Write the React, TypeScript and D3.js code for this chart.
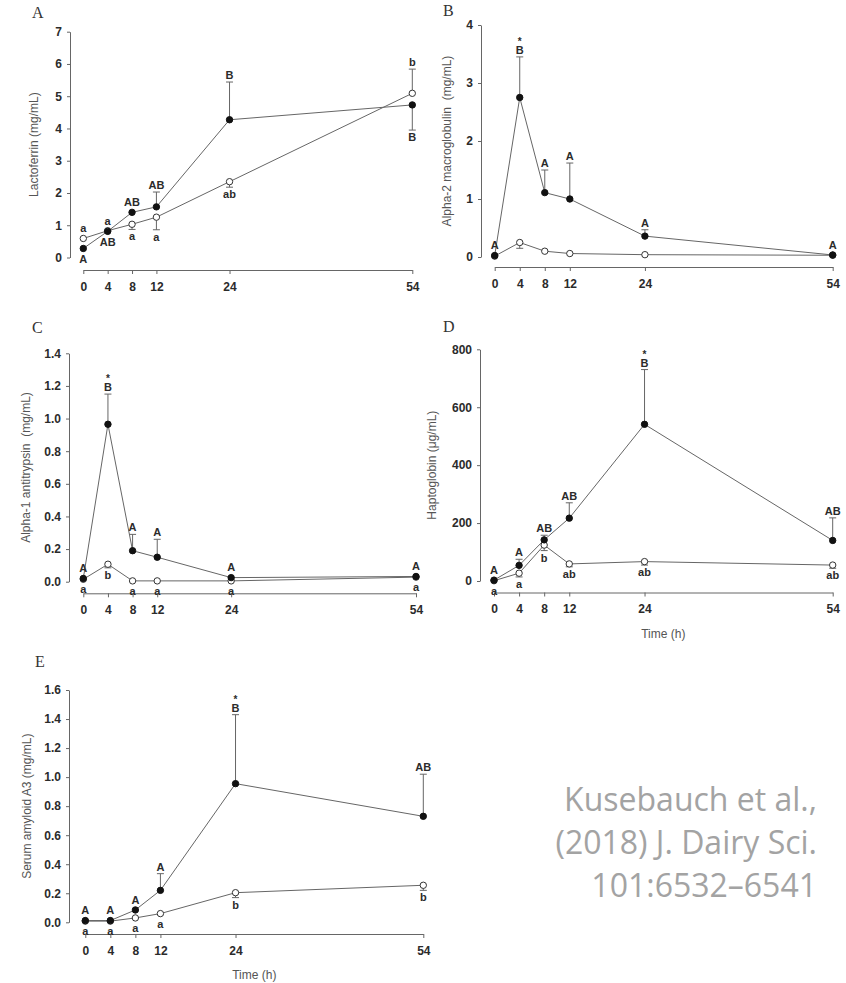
import React from "react";
import { select, scaleLinear, axisLeft, axisBottom, format, line, range } from "d3";

const times = [0, 4, 8, 12, 24, 54];

// A - lactoferrin (mg/mL)
const lactoFilled = [0.28, 0.81, 1.4, 1.57, 4.27, 4.73];
const lactoFilledErr = [null, null, null, 2.03, 5.44, 3.95];
const lactoOpen = [0.59, 0.83, 1.03, 1.25, 2.35, 5.09];
const lactoOpenErr = [null, null, 0.87, 0.86, 2.18, 5.84];
const lactoFilledLetters = ["A", "AB", "AB", "AB", "B", "B"];
const lactoOpenLetters = ["a", "a", "a", "a", "ab", "b"];
const lactoStars = [0, 0, 0, 0, 0, 0];

// B - alpha-2 macroglobulin (mg/mL)
const a2mFilled = [0.025, 2.75, 1.11, 1.0, 0.36, 0.035];
const a2mFilledErr = [null, 3.45, 1.5, 1.62, 0.47, null];
const a2mOpen = [0.015, 0.25, 0.1, 0.06, 0.04, 0.03];
const a2mOpenErr = [null, 0.15, null, null, null, null];
const a2mFilledLetters = ["A", "B", "A", "A", "A", "A"];
const a2mOpenLetters = ["", "", "", "", "", ""];
const a2mStars = [0, 1, 0, 0, 0, 0];

// C - alpha-1 antitrypsin (mg/mL)
const a1aFilled = [0.02, 0.965, 0.19, 0.15, 0.025, 0.032];
const a1aFilledErr = [null, 1.15, 0.29, 0.26, null, null];
const a1aOpen = [0.015, 0.107, 0.005, 0.005, 0.005, 0.028];
const a1aOpenErr = [null, 0.085, null, null, null, null];
const a1aFilledLetters = ["A", "B", "A", "A", "A", "A"];
const a1aOpenLetters = ["a", "b", "a", "a", "a", "a"];
const a1aStars = [0, 1, 0, 0, 0, 0];

// D - haptoglobin (ug/mL)
const hpFilled = [3, 54, 142, 217, 541, 140];
const hpFilledErr = [null, 75, 158, 270, 730, 218];
const hpOpen = [1, 27, 124, 59, 67, 55];
const hpOpenErr = [null, 14, 105, 49, 55, 44];
const hpFilledLetters = ["A", "A", "AB", "AB", "B", "AB"];
const hpOpenLetters = ["a", "a", "b", "ab", "ab", "ab"];
const hpStars = [0, 0, 0, 0, 1, 0];

// E - serum amyloid A3 (mg/mL)
const saaFilled = [0.012, 0.012, 0.085, 0.22, 0.955, 0.73];
const saaFilledErr = [null, null, null, 0.335, 1.43, 1.02];
const saaOpen = [0.008, 0.008, 0.03, 0.06, 0.204, 0.255];
const saaOpenErr = [null, null, null, null, 0.17, 0.22];
const saaFilledLetters = ["A", "A", "A", "A", "B", "AB"];
const saaOpenLetters = ["a", "a", "a", "a", "b", "b"];
const saaStars = [0, 0, 0, 0, 1, 0];

const citation = ["Kusebauch et al.,", "(2018) J. Dairy Sci.", "101:6532\u20136541"];

interface Series {
  values: number[];
  err: (number | null)[];
  letters: string[];
}

interface PanelSpec {
  letter: string;
  yLabel: string;
  yMax: number;
  yStep: number;
  yFormat: string;
  filled: Series;
  open: Series;
  stars: number[];
  timeLabel: boolean;
  // layout
  axisX: number;
  yTop: number;
  yBottom: number;
  xAxisY: number;
  x0: number;
  x1: number;
  yLabelX: number;
  letterX: number;
  letterY: number;
}

const panels: PanelSpec[] = [
  {
    letter: "A", yLabel: "Lactoferrin (mg/mL)", yMax: 7, yStep: 1, yFormat: "d",
    filled: { values: lactoFilled, err: lactoFilledErr, letters: lactoFilledLetters },
    open: { values: lactoOpen, err: lactoOpenErr, letters: lactoOpenLetters },
    stars: lactoStars, timeLabel: false,
    axisX: 70, yTop: 31.7, yBottom: 257.5, xAxisY: 270, x0: 83.3, x1: 412.3,
    yLabelX: 35, letterX: 32, letterY: 18,
  },
  {
    letter: "B", yLabel: "Alpha-2 macroglobulin  (mg/mL)", yMax: 4, yStep: 1, yFormat: "d",
    filled: { values: a2mFilled, err: a2mFilledErr, letters: a2mFilledLetters },
    open: { values: a2mOpen, err: a2mOpenErr, letters: a2mOpenLetters },
    stars: a2mStars, timeLabel: false,
    axisX: 481, yTop: 25, yBottom: 257, xAxisY: 267, x0: 494.7, x1: 832.7,
    yLabelX: 448, letterX: 443, letterY: 16,
  },
  {
    letter: "C", yLabel: "Alpha-1 antitrypsin  (mg/mL)", yMax: 1.4, yStep: 0.2, yFormat: ".1f",
    filled: { values: a1aFilled, err: a1aFilledErr, letters: a1aFilledLetters },
    open: { values: a1aOpen, err: a1aOpenErr, letters: a1aOpenLetters },
    stars: a1aStars, timeLabel: false,
    axisX: 69, yTop: 353.3, yBottom: 581.7, xAxisY: 593.3, x0: 83.3, x1: 416,
    yLabelX: 27, letterX: 32, letterY: 333,
  },
  {
    letter: "D", yLabel: "Haptoglobin (\u03bcg/mL)", yMax: 800, yStep: 200, yFormat: "d",
    filled: { values: hpFilled, err: hpFilledErr, letters: hpFilledLetters },
    open: { values: hpOpen, err: hpOpenErr, letters: hpOpenLetters },
    stars: hpStars, timeLabel: true,
    axisX: 480, yTop: 349.3, yBottom: 581, xAxisY: 592.5, x0: 494, x1: 832.7,
    yLabelX: 433, letterX: 443, letterY: 332,
  },
  {
    letter: "E", yLabel: "Serum amyloid A3 (mg/mL)", yMax: 1.6, yStep: 0.2, yFormat: ".1f",
    filled: { values: saaFilled, err: saaFilledErr, letters: saaFilledLetters },
    open: { values: saaOpen, err: saaOpenErr, letters: saaOpenLetters },
    stars: saaStars, timeLabel: true,
    axisX: 69, yTop: 690, yBottom: 922.3, xAxisY: 934, x0: 85.3, x1: 423.3,
    yLabelX: 28, letterX: 35, letterY: 667,
  },
];

const LINE_COLOR = "#666";
const TEXT_COLOR = "#2b2b2b";
const R = 3.2;
const FONT = "'Liberation Sans', Arial, sans-serif";

function drawPanel(svg: any, p: PanelSpec) {
  const g = svg.append("g");
  const x = scaleLinear().domain([0, 54]).range([p.x0, p.x1]);
  const y = scaleLinear().domain([0, p.yMax]).range([p.yBottom, p.yTop]);

  // panel letter
  g.append("text")
    .attr("x", p.letterX)
    .attr("y", p.letterY)
    .attr("font-family", "'Liberation Serif', 'Times New Roman', serif")
    .attr("font-size", 16)
    .attr("fill", "#333")
    .text(p.letter);

  // y axis
  const yTicks = range(0, p.yMax + p.yStep / 2, p.yStep);
  const yAxis = g
    .append("g")
    .attr("transform", `translate(${p.axisX},0)`)
    .call(
      axisLeft(y)
        .tickValues(yTicks)
        .tickFormat(format(p.yFormat) as any)
        .tickSize(3)
        .tickSizeOuter(0)
        .tickPadding(5)
    );
  yAxis.select(".domain").attr("stroke", LINE_COLOR);
  yAxis.selectAll(".tick line").attr("stroke", LINE_COLOR);
  yAxis
    .selectAll("text")
    .attr("font-family", FONT)
    .attr("font-size", 12)
    .attr("font-weight", "bold")
    .attr("fill", TEXT_COLOR);

  // x axis
  const xAxis = g
    .append("g")
    .attr("transform", `translate(0,${p.xAxisY})`)
    .call(axisBottom(x).tickValues(times).tickSize(4).tickSizeOuter(0).tickPadding(8));
  xAxis.select(".domain").attr("stroke", LINE_COLOR);
  xAxis.selectAll(".tick line").attr("stroke", LINE_COLOR);
  xAxis
    .selectAll("text")
    .attr("font-family", FONT)
    .attr("font-size", 12)
    .attr("font-weight", "bold")
    .attr("fill", TEXT_COLOR);

  // y label
  g.append("text")
    .attr("transform", `translate(${p.yLabelX},${(p.yTop + p.yBottom) / 2}) rotate(-90)`)
    .attr("text-anchor", "middle")
    .attr("dominant-baseline", "middle")
    .attr("font-family", FONT)
    .attr("font-size", 12)
    .attr("fill", "#555")
    .style("white-space", "pre")
    .text(p.yLabel);

  if (p.timeLabel) {
    g.append("text")
      .attr("x", (p.x0 + p.x1) / 2)
      .attr("y", p.xAxisY + 45)
      .attr("text-anchor", "middle")
      .attr("font-family", FONT)
      .attr("font-size", 12)
      .attr("fill", "#555")
      .text("Time (h)");
  }

  const path = line<number>()
    .x((_, i) => x(times[i]))
    .y((d) => y(d));

  [p.filled, p.open].forEach((s) => {
    g.append("path")
      .attr("d", path(s.values))
      .attr("fill", "none")
      .attr("stroke", LINE_COLOR)
      .attr("stroke-width", 1);
  });

  // error bars
  [p.filled, p.open].forEach((s) => {
    s.err.forEach((e, i) => {
      if (e === null) return;
      const cx = x(times[i]);
      g.append("line")
        .attr("x1", cx).attr("x2", cx)
        .attr("y1", y(s.values[i])).attr("y2", y(e))
        .attr("stroke", LINE_COLOR);
      g.append("line")
        .attr("x1", cx - 3.5).attr("x2", cx + 3.5)
        .attr("y1", y(e)).attr("y2", y(e))
        .attr("stroke", LINE_COLOR);
    });
  });

  // points
  g.selectAll(".open")
    .data(p.open.values)
    .join("circle")
    .attr("cx", (_: number, i: number) => x(times[i]))
    .attr("cy", (d: number) => y(d))
    .attr("r", R)
    .attr("fill", "#fff")
    .attr("stroke", "#333")
    .attr("stroke-width", 1);
  g.selectAll(".filled")
    .data(p.filled.values)
    .join("circle")
    .attr("cx", (_: number, i: number) => x(times[i]))
    .attr("cy", (d: number) => y(d))
    .attr("r", R)
    .attr("fill", "#111")
    .attr("stroke", "#111");

  // letters: placed past the error bar, or above/below depending on the other series
  const placeLetters = (s: Series, other: Series, isFilled: boolean) => {
    s.letters.forEach((txt, i) => {
      if (!txt) return;
      const v = s.values[i];
      const e = s.err[i];
      let up: boolean;
      if (e !== null) up = e > v;
      else up = v >= other.values[i] ? v !== other.values[i] || !isFilled : false;
      const end = e !== null ? y(e) : y(v) + (up ? -R : R);
      const baseline = up ? end - 3 : end + 11;
      const cx = x(times[i]);
      g.append("text")
        .attr("x", cx)
        .attr("y", baseline)
        .attr("text-anchor", "middle")
        .attr("font-family", FONT)
        .attr("font-size", 11)
        .attr("font-weight", "bold")
        .attr("fill", TEXT_COLOR)
        .text(txt);
      if (isFilled && p.stars[i]) {
        g.append("text")
          .attr("x", cx)
          .attr("y", baseline - 9)
          .attr("text-anchor", "middle")
          .attr("font-family", FONT)
          .attr("font-size", 10)
          .attr("font-weight", "bold")
          .attr("fill", TEXT_COLOR)
          .text("*");
      }
    });
  };
  placeLetters(p.filled, p.open, true);
  placeLetters(p.open, p.filled, false);
}

export default function App() {
  const svgRef = React.useRef<SVGSVGElement>(null);

  React.useLayoutEffect(() => {
    const svg = select(svgRef.current);
    svg.selectAll("*").remove();
    svg.append("rect").attr("width", 846).attr("height", 983).attr("fill", "#fff");
    panels.forEach((p) => drawPanel(svg, p));

    svg
      .append("g")
      .selectAll("text")
      .data(citation)
      .join("text")
      .attr("x", 817)
      .attr("y", (_: string, i: number) => 811 + i * 43)
      .attr("text-anchor", "end")
      .attr("font-family", "'Open Sans', sans-serif")
      .attr("font-size", 32)
      .attr("fill", "#a3a3a3")
      .text((d: string) => d);

    return () => {
      svg.selectAll("*").remove();
    };
  }, []);

  return (
    <svg
      ref={svgRef}
      width={846}
      height={983}
      style={{ position: "absolute", left: 0, top: 0 }}
    />
  );
}
